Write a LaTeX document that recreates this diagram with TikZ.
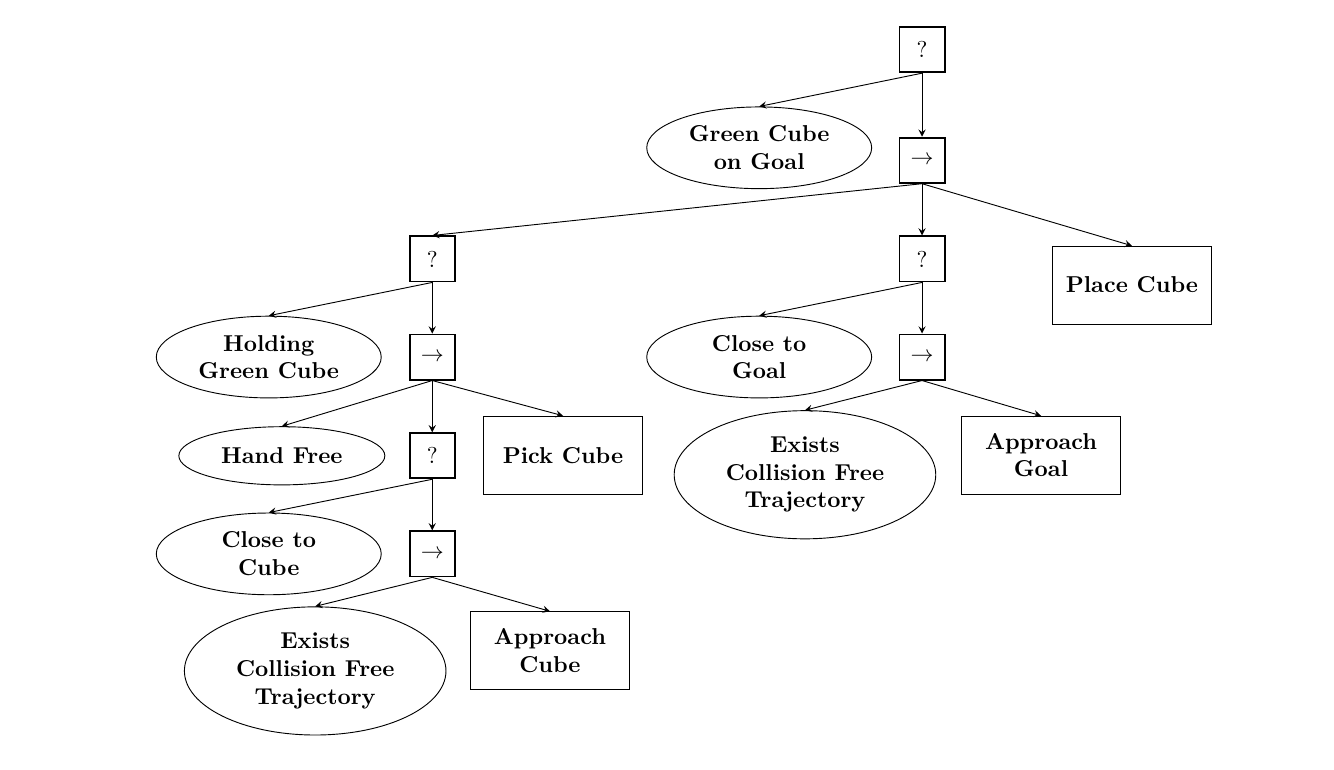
\documentclass[tikz,border=0pt]{standalone}
\usepackage{tikz}
\usetikzlibrary{positioning}
\usetikzlibrary{arrows,shapes}
\tikzstyle{ctrl}=[rectangle,draw,thick,minimum size=0.69cm,inner sep=0pt]
\tikzstyle{cond}=[ellipse,draw,align=center,font=\bfseries,inner sep=0pt,minimum width=3.44cm,minimum height=1.25cm]
\tikzstyle{act}=[rectangle,draw,align=center,font=\bfseries,minimum width=2.43cm,minimum height=1.19cm]
\tikzstyle{edge} = [draw,-stealth]

\begin{document}
\begin{tikzpicture}

   \useasboundingbox (0,0) rectangle (20.40,-11.77);

  % fallback and sequence nodes
  \foreach \x/\y/\name/\label in {14.10/-0.76/root/?, 14.10/-2.45/seqA/$\rightarrow$,
          6.61/-3.96/fbL/?, 14.10/-3.96/fbR/?, 6.61/-5.46/seqL/$\rightarrow$,
          14.10/-5.46/seqR/$\rightarrow$, 6.61/-6.97/fbC/?, 6.61/-8.47/seqC/$\rightarrow$}
          \node[ctrl] (\name) at (\x, \y) {\label};

  % conditions
  \foreach \x/\y/\name/\label in {11.61/-2.26/goal/{Green Cube\\on Goal},
          4.11/-5.46/holding/{Holding\\Green Cube}, 11.61/-5.46/closegoal/{Close to\\Goal},
          4.11/-8.47/closecube/{Close to\\Cube}}
          \node[cond] (\name) at (\x, \y) {\label};

   \node[cond, minimum width=3.15cm, minimum height=0.89cm] (handfree) at (4.31,-6.97) {Hand Free};
   \node[cond, minimum width=4.0cm, minimum height=1.96cm] (existsR) at (12.31,-7.26) {Exists\\Collision Free\\Trajectory};
   \node[cond, minimum width=4.0cm, minimum height=1.96cm] (existsL) at (4.82,-10.26) {Exists\\Collision Free\\Trajectory};

  % actions
  \foreach \x/\y/\name/\label in {17.31/-4.36/place/{Place Cube}, 8.61/-6.96/pick/{Pick Cube},
          15.92/-6.96/appgoal/{Approach\\Goal}, 8.41/-9.95/appcube/{Approach\\Cube}}
          \node[act] (\name) at (\x, \y) {\label};

  \foreach \source/ \dest in {root/goal,root/seqA,seqA/fbL,seqA/fbR,seqA/place,
          fbL/holding,fbL/seqL,seqL/handfree,seqL/fbC,seqL/pick,
          fbC/closecube,fbC/seqC,seqC/existsL,seqC/appcube,
          fbR/closegoal,fbR/seqR,seqR/existsR,seqR/appgoal}
         \path[edge] (\source.south) -- (\dest.north);

\end{tikzpicture}
\end{document}
